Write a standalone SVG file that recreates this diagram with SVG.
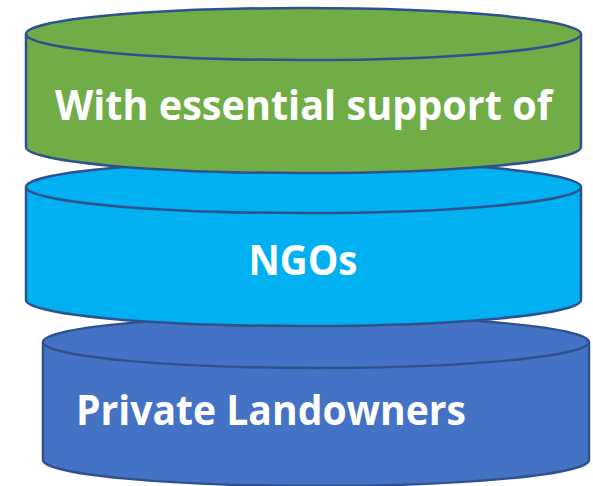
<svg xmlns="http://www.w3.org/2000/svg" width="593" height="486" viewBox="0 0 593 486">
<style>
.cyl{stroke:#2F528F;stroke-width:2.5;stroke-linejoin:round}
.rim{fill:none;stroke:#2F528F;stroke-width:2.5}
.lbl{fill:#FFFFFF;font-family:"Open Sans","Liberation Sans",sans-serif;font-weight:bold;font-size:42px}
</style>
<rect width="593" height="486" fill="#FFFFFF"/>
<g id="private-landowners">
<path class="cyl" fill="#4472C4" d="M43,342 A273,26 0 0 1 589,342 L589,460 A273,26 0 0 1 43,460 Z"/>
<path class="rim" d="M43,342 A273,26 0 0 0 589,342"/>
<text class="lbl" x="76" y="425" textLength="390" lengthAdjust="spacingAndGlyphs">Private Landowners</text>
</g>
<g id="ngos">
<path class="cyl" fill="#00B0F0" d="M26,187 A277.5,26 0 0 1 581,187 L581,300 A277.5,26 0 0 1 26,300 Z"/>
<path class="rim" d="M26,187 A277.5,26 0 0 0 581,187"/>
<text class="lbl" x="303" y="275" text-anchor="middle" textLength="109" lengthAdjust="spacingAndGlyphs">NGOs</text>
</g>
<g id="essential-support">
<path class="cyl" fill="#70AD47" d="M26,34 A277.5,26 0 0 1 581,34 L581,147 A277.5,26 0 0 1 26,147 Z"/>
<path class="rim" d="M26,34 A277.5,26 0 0 0 581,34"/>
<text class="lbl" x="55" y="120" textLength="497" lengthAdjust="spacingAndGlyphs">With essential support of</text>
</g>
<g id="connectors"/>
</svg>
